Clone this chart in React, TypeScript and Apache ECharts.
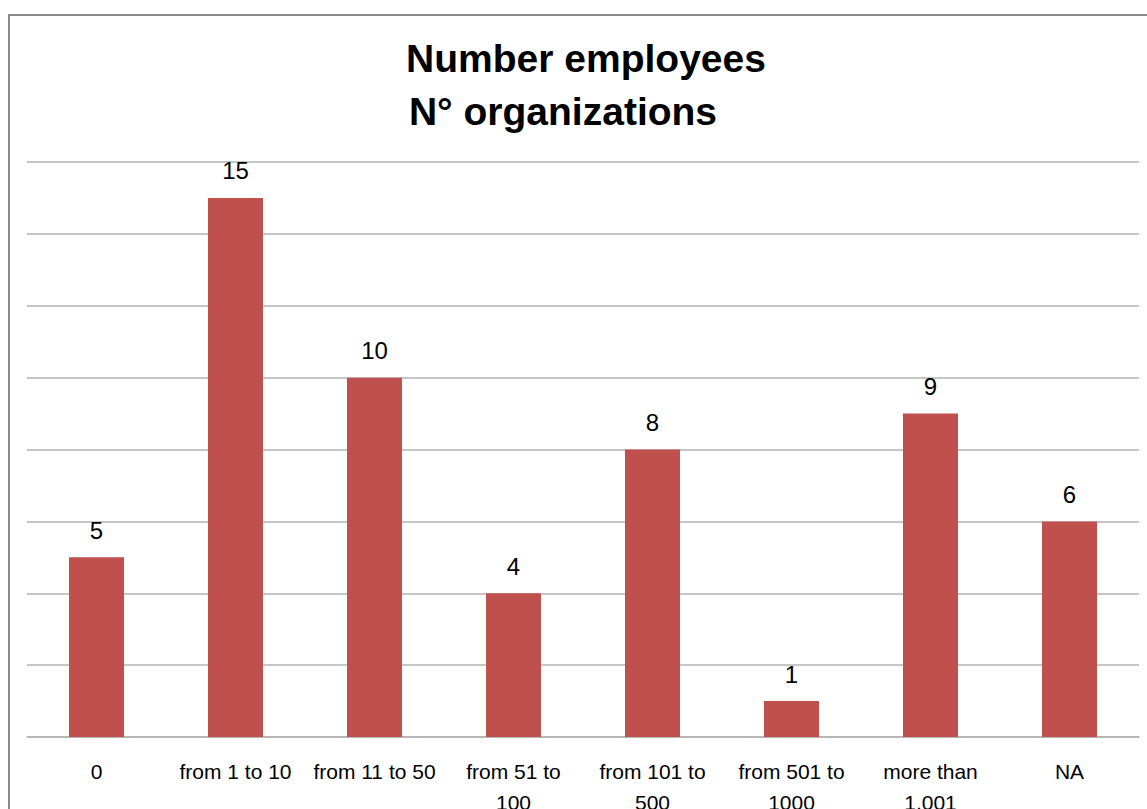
import React, { useEffect, useRef } from "react";
import * as echarts from "echarts";

const titleLine1 = "Number employees";
const titleLine2 = "N° organizations";
const categories = [
  "0",
  "from 1 to 10",
  "from 11 to 50",
  "from 51 to\n100",
  "from 101 to\n500",
  "from 501 to\n1000",
  "more than\n1,001",
  "NA",
];
const values = [5, 15, 10, 4, 8, 1, 9, 6];
const yMin = 0;
const yMax = 16;
const yInterval = 2;

export default function App() {
  const ref = useRef<HTMLDivElement>(null);
  useEffect(() => {
    if (!ref.current) return;
    const chart = echarts.init(ref.current, undefined, { renderer: "svg" });
    const font = "'Liberation Sans', Arial, sans-serif";
    chart.setOption({
      animation: false,
      backgroundColor: "#ffffff",
      textStyle: { fontFamily: font },
      graphic: [
        {
          type: "rect",
          shape: { x: 9, y: 15, width: 1200, height: 900 },
          style: { fill: "none", stroke: "#8a8a8a", lineWidth: 2 },
          silent: true,
        },
        {
          type: "text",
          x: 586,
          y: 58,
          style: {
            text: titleLine1,
            font: `bold 39px ${font}`,
            fill: "#000",
            textAlign: "center",
            textVerticalAlign: "middle",
          },
        },
        {
          type: "text",
          x: 563,
          y: 111,
          style: {
            text: titleLine2,
            font: `bold 39px ${font}`,
            fill: "#000",
            textAlign: "center",
            textVerticalAlign: "middle",
          },
        },
      ],
      grid: {
        left: 27,
        right: 8,
        top: 162,
        bottom: 72,
        containLabel: false,
        outerBoundsMode: "none",
      },
      xAxis: {
        type: "category",
        data: categories,
        axisTick: { show: false },
        axisLine: { lineStyle: { color: "#b0b0b0", width: 1.5 } },
        axisLabel: {
          color: "#000",
          fontSize: 21,
          lineHeight: 31,
          margin: 19,
          interval: 0,
          fontFamily: font,
        },
      },
      yAxis: {
        type: "value",
        min: yMin,
        max: yMax,
        interval: yInterval,
        axisLabel: { show: false },
        axisLine: { show: false },
        axisTick: { show: false },
        splitLine: { lineStyle: { color: "#b3b3b3", width: 1.5 } },
      },
      series: [
        {
          type: "bar",
          data: values,
          barWidth: 55,
          itemStyle: { color: "#c0504d" },
          label: {
            show: true,
            position: "top",
            distance: 15,
            color: "#000",
            fontSize: 24,
            fontFamily: font,
          },
        },
      ],
    });
    return () => chart.dispose();
  }, []);
  return (
    <div
      ref={ref}
      style={{ position: "fixed", left: 0, top: 0, width: 1147, height: 809 }}
    />
  );
}
